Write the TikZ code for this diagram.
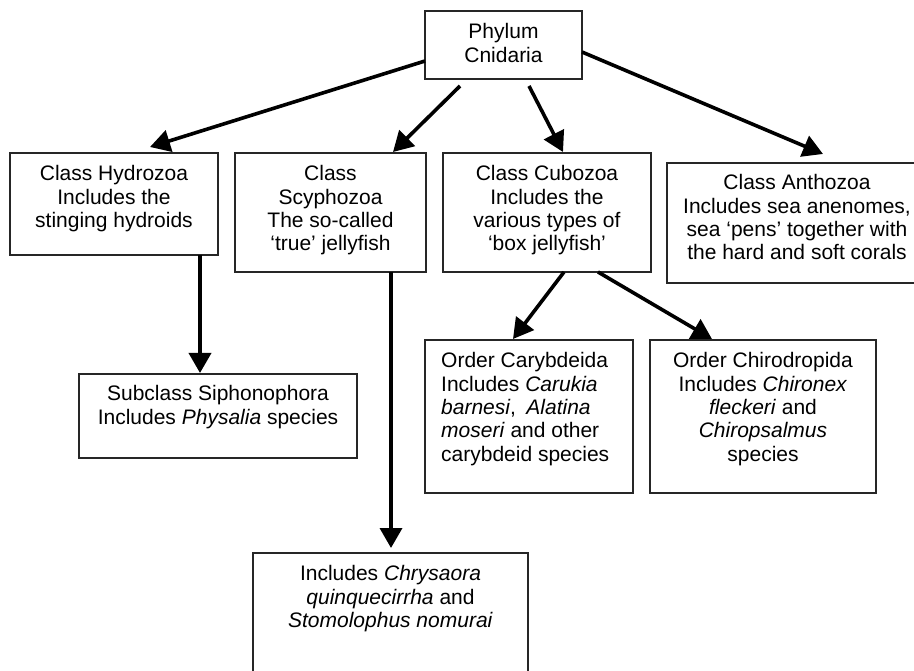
\documentclass[tikz,border=0pt]{standalone}
\usepackage{fontspec}
\setmainfont{Liberation Sans}
\usetikzlibrary{arrows.meta,calc}
\newcommand{\fl}{\rule{0pt}{16pt}}
\begin{document}
\begin{tikzpicture}[x=1pt,y=-1pt,
  box/.style={draw=black!85, line width=1.5pt, inner sep=0pt, outer sep=0pt, anchor=north west},
  txt/.style={font=\fontsize{21}{23.4}\selectfont, align=center, inner sep=0pt, anchor=north},
  arr/.style={line width=3.6pt, -{Triangle[length=20pt,width=22pt]}}]
\path[use as bounding box] (0,0) rectangle (914,671);
\clip (0,0) rectangle (914,671);
\fill[white] (0,0) rectangle (914,671);

% boxes
\node[box, minimum width=157pt, minimum height=68pt] (P) at (425,11) {};
\node[box, minimum width=208pt, minimum height=102pt] (H) at (10,153) {};
\node[box, minimum width=191pt, minimum height=119pt] (S) at (235,153) {};
\node[box, minimum width=208pt, minimum height=119pt] (C) at (443,153) {};
\node[box, minimum width=260pt, minimum height=120pt] (A) at (667,163) {};
\node[box, minimum width=278pt, minimum height=84pt] (Sub) at (79,374) {};
\node[box, minimum width=208pt, minimum height=153pt] (Car) at (425,340) {};
\node[box, minimum width=226pt, minimum height=153pt] (Chi) at (650,340) {};
\node[box, minimum width=275pt, minimum height=150pt] (B) at (253,553) {};

% texts
\node[txt] (Pt) at ($(P.north)+(0,11.5)$) {\fl Phylum\\Cnidaria};
\node[txt] (Ht) at ($(H.north)+(0,11.5)$) {\fl Class Hydrozoa\\Includes the\\stinging hydroids};
\node[txt] (St) at ($(S.north)+(0,11.5)$) {\fl Class\\Scyphozoa\\The so-called\\‘true’ jellyfish};
\node[txt] (Ct) at ($(C.north)+(0,11.5)$) {\fl Class Cubozoa\\Includes the\\various types of\\‘box jellyfish’};
\node[txt] (At) at ($(A.north)+(0,10.5)$) {\fl Class Anthozoa\\Includes sea anenomes,\\sea ‘pens’ together with\\the hard and soft corals};
\node[txt] (Subt) at ($(Sub.north)+(0,10.5)$) {\fl Subclass Siphonophora\\Includes \textit{Physalia} species};
\node[txt, align=left, anchor=north west] (Cart) at ($(Car.north west)+(16,11.5)$) {\fl Order Carybdeida\\Includes \textit{Carukia}\\\textit{barnesi},\enspace\textit{Alatina}\\\textit{moseri} and other\\carybdeid species};
\node[txt] (Chit) at ($(Chi.north)+(0,11.5)$) {\fl Order Chirodropida\\Includes \textit{Chironex}\\\textit{fleckeri} and\\\textit{Chiropsalmus}\\species};
\node[txt] (Bt) at ($(B.north)+(0,11.5)$) {\fl Includes \textit{Chrysaora}\\\textit{quinquecirrha} and\\\textit{Stomolophus nomurai}};

% connectors
\draw[arr] ($(P.north west)+(0,50)$) -- ($(H.north west)+(140,-6)$);
\draw[arr] ($(P.south west)+(35,7)$) -- ($(S.north west)+(158,-1)$);
\draw[arr] ($(P.south west)+(104,7)$) -- ($(C.north west)+(120,-1)$);
\draw[arr] ($(P.north east)+(0,41)$) -- ($(A.north west)+(156,-9)$);
\draw[arr] ($(H.south west)+(190,0)$) -- ($(Sub.north west)+(121,-1)$);
\draw[arr] ($(S.south west)+(156,0)$) -- ($(B.north west)+(138,-5)$);
\draw[arr] ($(C.south west)+(121,0)$) -- ($(Car.north west)+(88,-1)$);
\draw[arr] ($(C.south west)+(155,0)$) -- ($(Chi.north west)+(62,-1)$);
\end{tikzpicture}
\end{document}
